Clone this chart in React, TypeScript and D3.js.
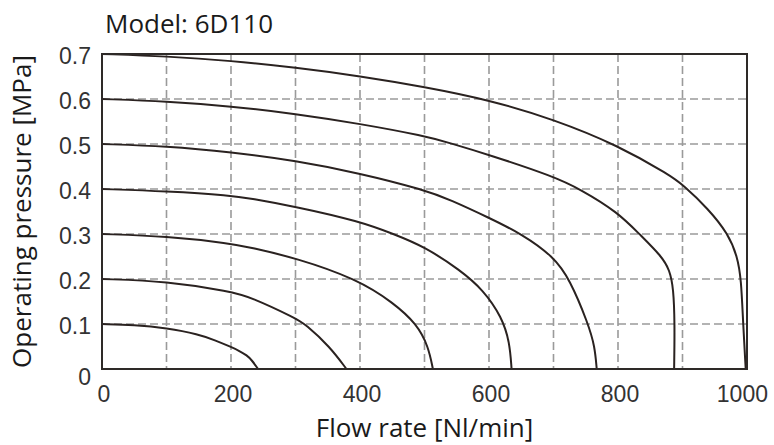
import React, { useEffect, useRef } from 'react';
import * as d3 from 'd3';

// Flow rate [Nl/min] vs operating pressure [MPa], one curve per set pressure
const flow01 = [0, 50, 100, 150, 175, 200, 212, 225, 232, 242];
const pres01 = [0.1, 0.098, 0.091, 0.077, 0.064, 0.049, 0.041, 0.03, 0.02, 0];

const flow02 = [0, 100, 200, 230, 300, 315, 353, 379];
const pres02 = [0.2, 0.195, 0.172, 0.16, 0.113, 0.1, 0.05, 0];

const flow03 = [0, 100, 200, 230, 300, 395, 452, 488, 506, 513];
const pres03 = [0.3, 0.295, 0.279, 0.27, 0.247, 0.2, 0.147, 0.1, 0.05, 0];

const flow04 = [0, 100, 200, 230, 300, 400, 452, 500, 555, 591, 620, 632, 635];
const pres04 = [0.4, 0.395, 0.386, 0.379, 0.361, 0.328, 0.3, 0.272, 0.22, 0.176, 0.115, 0.06, 0];

const flow05 = [0, 100, 200, 300, 400, 500, 540, 600, 651, 700, 725, 754, 764, 767];
const pres05 = [0.5, 0.495, 0.482, 0.463, 0.435, 0.398, 0.376, 0.336, 0.3, 0.25, 0.2, 0.1, 0.05, 0];

const flow06 = [0, 100, 200, 300, 400, 500, 540, 600, 700, 741, 800, 833, 868, 880, 886, 888, 887];
const pres06 = [0.6, 0.595, 0.584, 0.567, 0.545, 0.518, 0.502, 0.476, 0.428, 0.4, 0.348, 0.3, 0.25, 0.22, 0.18, 0.1, 0];

const flow07 = [0, 100, 200, 300, 400, 500, 600, 700, 800, 881, 900, 940, 971, 985, 991, 994, 998];
const pres07 = [0.7, 0.695, 0.685, 0.67, 0.651, 0.627, 0.598, 0.555, 0.497, 0.43, 0.41, 0.356, 0.3, 0.25, 0.2, 0.1, 0];

const curveFlows = [flow01, flow02, flow03, flow04, flow05, flow06, flow07];
const curvePressures = [pres01, pres02, pres03, pres04, pres05, pres06, pres07];

const xTicks = [0, 200, 400, 600, 800, 1000];
const xGrid = [100, 200, 300, 400, 500, 600, 700, 800, 900];
const yTicks = [0, 0.1, 0.2, 0.3, 0.4, 0.5, 0.6, 0.7];
const yGrid = [0.1, 0.2, 0.3, 0.4, 0.5, 0.6];

const W = 774;
const H = 445;
const margin = { top: 54, right: 27, bottom: 76, left: 102 };

const App: React.FC = () => {
  const svgRef = useRef<SVGSVGElement>(null);

  useEffect(() => {
    if (!svgRef.current) return;
    const svg = d3.select(svgRef.current);
    svg.selectAll('*').remove();

    const x = d3.scaleLinear().domain([0, 1000]).range([margin.left, W - margin.right]);
    const y = d3.scaleLinear().domain([0, 0.7]).range([H - margin.bottom, margin.top]);

    const [x0, x1] = x.range();
    const [y0, y1] = y.range();

    const titleFont = '"Open Sans", "Noto Sans", sans-serif';
    const tickFont = '"Liberation Sans", Arial, sans-serif';

    // grid
    const grid = svg.append('g')
      .attr('stroke', '#9a9a9a')
      .attr('stroke-width', 1.6)
      .attr('stroke-dasharray', '8 4');
    grid.selectAll('line.v')
      .data(xGrid)
      .enter()
      .append('line')
      .attr('x1', d => x(d)).attr('x2', d => x(d))
      .attr('y1', y1).attr('y2', y0);
    grid.selectAll('line.h')
      .data(yGrid)
      .enter()
      .append('line')
      .attr('x1', x0).attr('x2', x1)
      .attr('y1', d => y(d)).attr('y2', d => y(d));

    // curves (b-spline smooths out the reading noise)
    const line = d3.line<[number, number]>()
      .x(d => x(d[0]))
      .y(d => y(d[1]))
      .curve(d3.curveBasis);

    svg.append('g')
      .selectAll('path')
      .data(curveFlows.map((fl, i) => fl.map((f, j) => [f, curvePressures[i][j]] as [number, number])))
      .enter()
      .append('path')
      .attr('d', d => line(d))
      .attr('fill', 'none')
      .attr('stroke', '#2a2220')
      .attr('stroke-width', 2);

    // frame
    svg.append('rect')
      .attr('x', x0).attr('y', y1)
      .attr('width', x1 - x0).attr('height', y0 - y1)
      .attr('fill', 'none')
      .attr('stroke', '#2e2a28')
      .attr('stroke-width', 2);

    // x tick labels
    svg.append('g')
      .selectAll('text')
      .data(xTicks)
      .enter()
      .append('text')
      .attr('x', d => d === 1000 ? x(d) + 21 : x(d) + 2)
      .attr('y', y0 + 33)
      .attr('text-anchor', d => d === 1000 ? 'end' : 'middle')
      .attr('font-family', tickFont)
      .attr('font-size', 23)
      .attr('fill', '#333')
      .text(d => String(d));

    // y tick labels
    svg.append('g')
      .selectAll('text')
      .data(yTicks)
      .enter()
      .append('text')
      .attr('x', x0 - 11)
      .attr('y', d => y(d) + (d === 0 ? 16 : 10))
      .attr('text-anchor', 'end')
      .attr('font-family', tickFont)
      .attr('font-size', 23)
      .attr('fill', '#333')
      .text(d => d === 0 ? '0' : d3.format('.1f')(d));

    // titles
    svg.append('text')
      .attr('x', 105)
      .attr('y', 33)
      .attr('font-family', titleFont)
      .attr('font-size', 26)
      .attr('fill', '#1a1a1a')
      .text('Model: 6D110');

    svg.append('text')
      .attr('x', (x0 + x1) / 2)
      .attr('y', 437)
      .attr('text-anchor', 'middle')
      .attr('font-family', titleFont)
      .attr('font-size', 26)
      .attr('fill', '#1a1a1a')
      .text('Flow rate [Nl/min]');

    svg.append('text')
      .attr('transform', `translate(31, ${(y0 + y1) / 2}) rotate(-90)`)
      .attr('text-anchor', 'middle')
      .attr('font-family', titleFont)
      .attr('font-size', 26)
      .attr('fill', '#1a1a1a')
      .text('Operating pressure [MPa]');
  }, []);

  return (
    <svg
      ref={svgRef}
      width={W}
      height={H}
      style={{ position: 'absolute', left: 0, top: 0, background: '#fff' }}
    />
  );
};

export default App;
